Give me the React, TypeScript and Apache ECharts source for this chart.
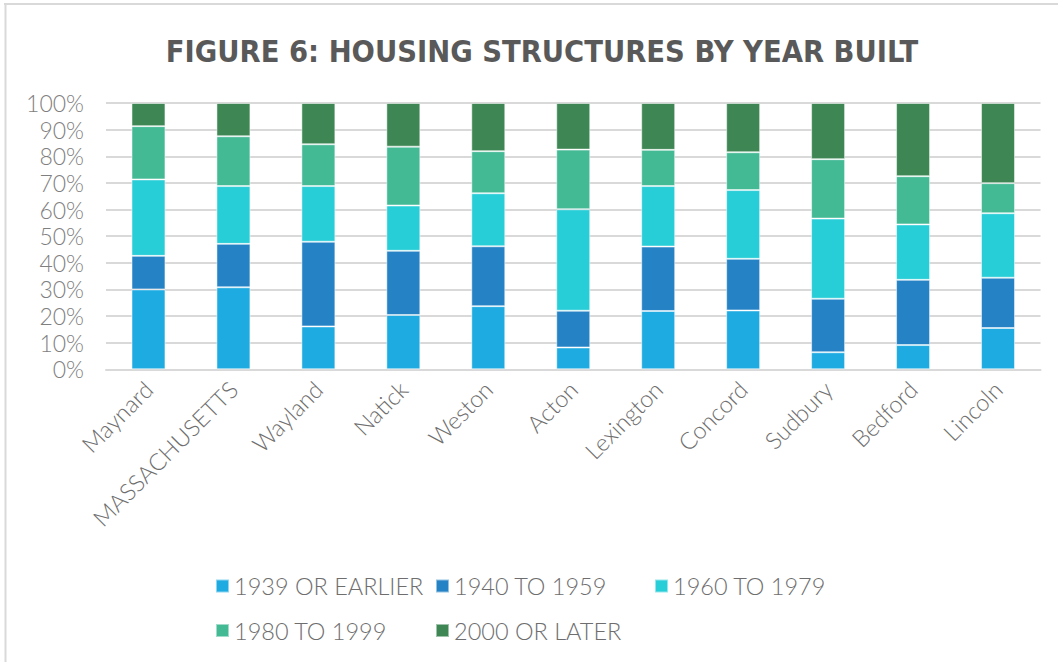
import React, { useEffect, useRef } from "react";
import * as echarts from "echarts";

const categories = ["Maynard", "MASSACHUSETTS", "Wayland", "Natick", "Weston", "Acton", "Lexington", "Concord", "Sudbury", "Bedford", "Lincoln"];
const seriesNames = ["1939 OR EARLIER", "1940 TO 1959", "1960 TO 1979", "1980 TO 1999", "2000 OR LATER"];
const s1939 = [30.0, 30.8, 16.1, 20.4, 23.7, 8.2, 21.9, 22.1, 6.4, 9.1, 15.5];
const s1940 = [12.6, 16.3, 31.8, 24.1, 22.5, 13.8, 24.2, 19.4, 20.1, 24.5, 18.9];
const s1960 = [28.7, 21.7, 20.9, 17.0, 19.9, 38.1, 22.7, 25.8, 30.1, 20.8, 24.2];
const s1980 = [20.0, 18.7, 15.7, 22.1, 15.8, 22.4, 13.6, 14.2, 22.3, 18.1, 11.3];
const s2000 = [8.7, 12.5, 15.5, 16.4, 18.1, 17.5, 17.6, 18.5, 21.1, 27.5, 30.1];
const colors = ["#1eabe2", "#2582c5", "#27cdd7", "#43b994", "#3e8754"];

const allSeries = [s1939, s1940, s1960, s1980, s2000];

export default function App() {
  const ref = useRef<HTMLDivElement>(null);
  useEffect(() => {
    if (!ref.current) return;
    const chart = echarts.init(ref.current, undefined, { renderer: "svg" });
    const legendPos = [
      { left: 215, top: 574 },
      { left: 435, top: 574 },
      { left: 654, top: 574 },
      { left: 215, top: 618.5 },
      { left: 435, top: 618.5 },
    ];
    chart.setOption({
      animation: false,
      backgroundColor: "#ffffff",
      title: {
        text: "FIGURE 6: HOUSING STRUCTURES BY YEAR BUILT",
        left: 537,
        top: 31,
        textAlign: "center",
        textStyle: {
          fontFamily: "'Liberation Sans Narrow', 'DejaVu Sans Condensed', sans-serif",
          fontWeight: "bold",
          fontSize: 30.5,
          color: "#595959",
        },
      },
      graphic: [
        { type: "line", shape: { x1: 4, y1: 4, x2: 1058, y2: 4 }, style: { stroke: "#d9d9d9", lineWidth: 2 } },
        { type: "line", shape: { x1: 5.5, y1: 3, x2: 5.5, y2: 662 }, style: { stroke: "#d9d9d9", lineWidth: 2 } },
      ],
      legend: seriesNames.map((n, i) => ({
        data: [n],
        left: legendPos[i].left,
        top: legendPos[i].top,
        padding: 0,
        icon: "rect",
        itemWidth: 13,
        itemHeight: 13,
        selectedMode: false,
        textStyle: { fontFamily: "Lato", fontWeight: 300, fontSize: 23.5, color: "#6e6e6e" },
      })),
      grid: { left: 106, right: 17.5, top: 103, bottom: 292.7, containLabel: false },
      xAxis: {
        type: "category",
        data: categories,
        axisLine: { show: true, lineStyle: { color: "#d9d9d9", width: 2 } },
        axisTick: { show: false },
        axisLabel: {
          rotate: 45,
          interval: 0,
          margin: 16,
          fontFamily: "Lato",
          fontWeight: 300,
          fontSize: 23.5,
          color: "#6e6e6e",
        },
      },
      yAxis: {
        type: "value",
        min: 0,
        max: 100,
        interval: 10,
        axisLine: { show: false },
        axisTick: { show: false },
        splitLine: { lineStyle: { color: "#d9d9d9", width: 2 } },
        axisLabel: {
          formatter: "{value}%",
          margin: 22,
          fontFamily: "Lato",
          fontWeight: 300,
          fontSize: 23,
          color: "#7f7f7f",
        },
      },
      series: seriesNames.map((n, i) => ({
        name: n,
        type: "bar",
        stack: "total",
        data: allSeries[i],
        barWidth: "40%",
        itemStyle: { color: colors[i], borderColor: "rgba(255,255,255,0.5)", borderWidth: 1 },
      })),
    });
    return () => chart.dispose();
  }, []);
  return <div ref={ref} style={{ position: "absolute", left: 0, top: 0, width: 1058, height: 662 }} />;
}
